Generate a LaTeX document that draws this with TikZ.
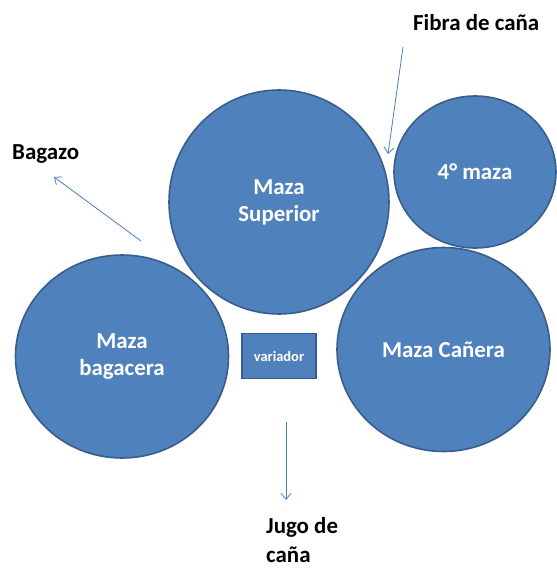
\documentclass[tikz,border=0pt]{standalone}
\usepackage{fontspec}
\setmainfont{Carlito}
\usepackage{xcolor}
\usetikzlibrary{arrows.meta,positioning,shapes.geometric}

\definecolor{mazaazul}{HTML}{4F81BD}
\definecolor{mazaborde}{HTML}{385D8A}
\definecolor{flechaazul}{HTML}{4A7EBB}

\tikzset{
  maza/.style={ellipse, draw=mazaborde, fill=mazaazul, line width=1.6pt,
    text=white, font=\fontsize{23}{27}\selectfont\bfseries, align=center, inner sep=0pt},
  flecha/.style={draw=flechaazul, line width=0.8pt, -{Straight Barb[length=6bp,width=10bp]}},
  etiqueta/.style={font=\fontsize{23}{29}\selectfont\bfseries, inner sep=0pt}
}

\begin{document}
\begin{tikzpicture}[x=1bp, y=-1bp]
  \useasboundingbox (0,0) rectangle (557,572);
  % Mazas del molino
  \node[maza, minimum width=220bp, minimum height=224bp] (superior) at (279,202) {Maza\\Superior};
  \node[maza, minimum width=162bp, minimum height=152bp] (cuarta) at (475,172) {4° maza};
  \node[maza, minimum width=213bp, minimum height=204bp] (canera) at (443.5,349.5) {Maza Cañera};
  \node[maza, minimum width=213bp, minimum height=203bp] (bagacera) at (122,356.5) {Maza\\bagacera};
  \node[draw=mazaborde, fill=mazaazul, line width=1.6pt, text=white,
    font=\fontsize{14.5}{16}\selectfont\bfseries, minimum width=74bp, minimum height=45bp,
    inner sep=0pt] (variador) at (279,356) {variador};
  % Entradas y salidas
  \node[etiqueta, anchor=base west] (fibra) at (413,31) {Fibra de caña};
  \node[etiqueta, anchor=base west] (bagazo) at (12,160) {Bagazo};
  \node[etiqueta, anchor=base west, align=left] (jugo) at (266,562) {Jugo de\\caña};
  \coordinate (fibraini) at (403,47);
  \coordinate (fibrafin) at (388,154);
  \coordinate (bagazoini) at (141,241);
  \coordinate (bagazofin) at (54,177);
  \coordinate (jugoini) at (286,422);
  \coordinate (jugofin) at (286,500);
  \draw[flecha] (fibraini) -- (fibrafin);
  \draw[flecha] (bagazoini) -- (bagazofin);
  \draw[flecha] (jugoini) -- (jugofin);
\end{tikzpicture}
\end{document}
